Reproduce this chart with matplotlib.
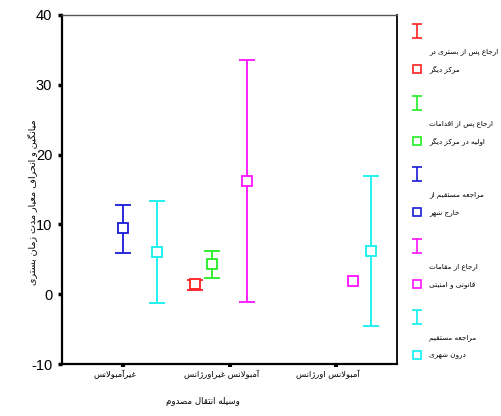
import numpy as np
import matplotlib
matplotlib.use("Agg")
import matplotlib.pyplot as plt
from matplotlib.transforms import ScaledTranslation

nan = np.nan

# گروه‌های محور افقی
groups = ["غیرآمبولانس", "آمبولانس غیراورژانس", "آمبولانس اورژانس"]

series_line1 = ["ارجاع پس از بستری در", "ارجاع پس از اقدامات", "مراجعه مستقیم از",
                "ارجاع از مقامات", "مراجعه مستقیم"]
series_line2 = ["مرکز دیگر", "اولیه در مرکز دیگر", "خارج شهر",
                "قانونی و امنیتی", "درون شهری"]
colors = ["#ff2020", "#22ee22", "#1a1ad8", "#ff10ff", "#10f0f0"]

means = [[nan, 1.4, nan],
         [nan, 4.3, nan],
         [9.5, nan, nan],
         [nan, 16.2, 1.9],
         [6.0, nan, 6.2]]
lows = [[nan, 0.6, nan],
        [nan, 2.3, nan],
        [5.9, nan, nan],
        [nan, -1.1, nan],
        [-1.3, nan, -4.5]]
highs = [[nan, 2.0, nan],
         [nan, 6.2, nan],
         [12.8, nan, nan],
         [nan, 33.5, nan],
         [13.4, nan, 17.0]]

y_label = "میانگین و انحراف معیار مدت زمان بستری"
x_label = "وسیله انتقال مصدوم"

# --- شکل‌دهی ساده حروف فارسی (matplotlib خودش این کار را نمی‌کند) ---
FORMS = {
    'ا': (0xFE8D, 0xFE8E, None, None), 'آ': (0xFE81, 0xFE82, None, None),
    'ب': (0xFE8F, 0xFE90, 0xFE91, 0xFE92), 'پ': (0xFB56, 0xFB57, 0xFB58, 0xFB59),
    'ت': (0xFE95, 0xFE96, 0xFE97, 0xFE98), 'ج': (0xFE9D, 0xFE9E, 0xFE9F, 0xFEA0),
    'ح': (0xFEA1, 0xFEA2, 0xFEA3, 0xFEA4), 'خ': (0xFEA5, 0xFEA6, 0xFEA7, 0xFEA8),
    'د': (0xFEA9, 0xFEAA, None, None), 'ر': (0xFEAD, 0xFEAE, None, None),
    'ز': (0xFEAF, 0xFEB0, None, None), 'ژ': (0xFB8A, 0xFB8B, None, None),
    'س': (0xFEB1, 0xFEB2, 0xFEB3, 0xFEB4), 'ش': (0xFEB5, 0xFEB6, 0xFEB7, 0xFEB8),
    'ص': (0xFEB9, 0xFEBA, 0xFEBB, 0xFEBC), 'ع': (0xFEC9, 0xFECA, 0xFECB, 0xFECC),
    'غ': (0xFECD, 0xFECE, 0xFECF, 0xFED0), 'ف': (0xFED1, 0xFED2, 0xFED3, 0xFED4),
    'ق': (0xFED5, 0xFED6, 0xFED7, 0xFED8), 'ک': (0xFB8E, 0xFB8F, 0xFB90, 0xFB91),
    'گ': (0xFB92, 0xFB93, 0xFB94, 0xFB95), 'ل': (0xFEDD, 0xFEDE, 0xFEDF, 0xFEE0),
    'م': (0xFEE1, 0xFEE2, 0xFEE3, 0xFEE4), 'ن': (0xFEE5, 0xFEE6, 0xFEE7, 0xFEE8),
    'ه': (0xFEE9, 0xFEEA, 0xFEEB, 0xFEEC), 'و': (0xFEED, 0xFEEE, None, None),
    'ی': (0xFBFC, 0xFBFD, 0xFBFE, 0xFBFF),
}
LAM_ALEF = {'ا': (0xFEFB, 0xFEFC), 'آ': (0xFEF5, 0xFEF6)}


def dual(c):
    return c in FORMS and FORMS[c][2] is not None


def fa(text):
    out = []
    i = 0
    n = len(text)
    while i < n:
        c = text[i]
        if c not in FORMS:
            out.append(c)
            i += 1
            continue
        prev = text[i - 1] if i > 0 else ' '
        join_prev = dual(prev)
        if c == 'ل' and i + 1 < n and text[i + 1] in LAM_ALEF:
            iso, fin = LAM_ALEF[text[i + 1]]
            out.append(chr(fin if join_prev else iso))
            i += 2
            continue
        nxt = text[i + 1] if i + 1 < n else ' '
        join_next = dual(c) and nxt in FORMS
        iso, fin, ini, med = FORMS[c]
        if join_prev and join_next:
            out.append(chr(med))
        elif join_prev:
            out.append(chr(fin))
        elif join_next:
            out.append(chr(ini))
        else:
            out.append(chr(iso))
        i += 1
    return ''.join(reversed(out))


plt.rcParams['font.family'] = ['Liberation Sans', 'DejaVu Sans']
plt.rcParams['axes.unicode_minus'] = False

W, H = 501, 416
fig = plt.figure(figsize=(W / 100, H / 100), dpi=100)
ax = fig.add_axes([62 / W, 1 - 364 / H, 335 / W, 349 / H])

slot = 0.162
offsets = [-2, -1, 0, 1, 2]
xg = np.arange(1, len(groups) + 1)

for k in range(len(colors)):
    m = np.array(means[k])
    lo = np.array(lows[k])
    hi = np.array(highs[k])
    x = xg + offsets[k] * slot
    ok = ~np.isnan(lo)
    ax.errorbar(x[ok], m[ok], yerr=[m[ok] - lo[ok], hi[ok] - m[ok]], fmt='none',
                ecolor=colors[k], elinewidth=1.3, capsize=6, capthick=1.3, zorder=2)
    pts = ~np.isnan(m)
    ax.plot(x[pts], m[pts], 's', ms=7, mfc='white', mec=colors[k], mew=1.3,
            linestyle='none', zorder=3)

ax.set_xlim(0.43, 3.57)
ax.set_ylim(-10, 40)
ax.set_yticks([-10, 0, 10, 20, 30, 40])
ax.set_xticks(xg)
ax.set_xticklabels([])
# tick labels sit a little left of their ticks in the original
shift = ax.get_xaxis_transform() + ScaledTranslation(-8 / 100, 0, fig.dpi_scale_trans)
for g, name in zip(xg, groups):
    ax.text(g, -0.03, fa(name), transform=shift, ha='center', va='center',
            fontsize=6, family='DejaVu Sans')
ax.tick_params(axis='y', direction='out', length=3, width=2.5, labelsize=10.5, pad=4)
ax.tick_params(axis='x', direction='out', length=2, width=3, pad=2)

for side in ['left', 'bottom']:
    ax.spines[side].set_linewidth(1.6)
    ax.spines[side].set_color('black')
ax.spines['top'].set_linewidth(1.0)
ax.spines['top'].set_color('#555555')
ax.spines['right'].set_linewidth(1.3)
ax.spines['right'].set_color('black')

fig.text(32 / W, 1 - 202 / H, fa(y_label), rotation=90, ha='center', va='center',
         fontsize=6.8, family='DejaVu Sans')
fig.text(203 / W, 1 - 401 / H, fa(x_label), ha='center', va='center',
         fontsize=6.2, family='DejaVu Sans')

# legend drawn by hand in pixel coordinates of the figure
lax = fig.add_axes([0, 0, 1, 1], facecolor='none')
lax.set_xlim(0, W)
lax.set_ylim(H, 0)
lax.axis('off')
for k in range(len(colors)):
    y0 = 31 + 71.5 * k
    lax.errorbar([417], [y0], yerr=[[7], [7]], fmt='none', ecolor=colors[k],
                 elinewidth=1.2, capsize=3.5, capthick=1.2)
    lax.plot([417], [y0 + 38], 's', ms=5.5, mfc='white', mec=colors[k], mew=1.2)
    lax.text(429, y0 + 21, fa(series_line1[k]), ha='left', va='center',
             fontsize=5.2, family='DejaVu Sans')
    lax.text(429, y0 + 39, fa(series_line2[k]), ha='left', va='center',
             fontsize=5.2, family='DejaVu Sans')

fig.savefig('out.png', dpi=100)
